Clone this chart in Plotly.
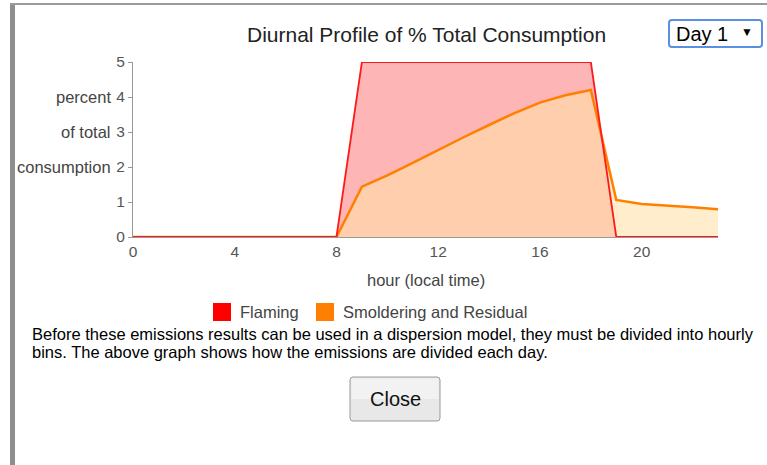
import plotly.graph_objects as go

hours = list(range(24))
flaming = [0, 0, 0, 0, 0, 0, 0, 0, 0, 5, 5, 5, 5, 5, 5, 5, 5, 5, 5, 0, 0, 0, 0, 0]
smoldering = [0, 0, 0, 0, 0, 0, 0, 0, 0, 1.44, 1.76, 2.12, 2.49, 2.85, 3.2, 3.54, 3.84, 4.05, 4.2,
              1.06, 0.94, 0.9, 0.85, 0.79]
x_ticks = [0, 4, 8, 12, 16, 20]
y_ticks = [0, 1, 2, 3, 4, 5]
series_names = ["Flaming", "Smoldering and Residual"]
y_title_lines = ["percent", "of total", "consumption"]

W, H = 767, 465
L, R, T, B = 133, 718, 62, 237
FONT = "Liberation Sans, Arial, sans-serif"


def px(x):
    return (x - L) / (R - L)


def py(y):
    return (B - y) / (B - T)


def rrect(x0, y0, x1, y1, r):
    pts = [
        f"M {px(x0 + r)},{py(y0)}",
        f"L {px(x1 - r)},{py(y0)}",
        f"Q {px(x1)},{py(y0)} {px(x1)},{py(y0 + r)}",
        f"L {px(x1)},{py(y1 - r)}",
        f"Q {px(x1)},{py(y1)} {px(x1 - r)},{py(y1)}",
        f"L {px(x0 + r)},{py(y1)}",
        f"Q {px(x0)},{py(y1)} {px(x0)},{py(y1 - r)}",
        f"L {px(x0)},{py(y0 + r)}",
        f"Q {px(x0)},{py(y0)} {px(x0 + r)},{py(y0)} Z",
    ]
    return " ".join(pts)


fig = go.Figure()
fig.add_trace(go.Scatter(x=hours, y=flaming, mode="lines", fill="tozeroy",
                         fillcolor="rgb(253,181,181)", line=dict(width=0, color="rgba(0,0,0,0)"),
                         hoverinfo="skip", showlegend=False))
fig.add_trace(go.Scatter(x=hours, y=smoldering, mode="lines", fill="tozeroy",
                         fillcolor="rgba(255,224,167,0.58)", line=dict(width=2.5, color="#ff8000"),
                         name=series_names[1], showlegend=False))
fig.add_trace(go.Scatter(x=hours, y=flaming, mode="lines",
                         line=dict(width=1.8, color="#ff1a1a"), name=series_names[0], showlegend=False))

shapes = []
annotations = []

# dialog frame
shapes.append(dict(type="rect", xref="paper", yref="paper", x0=px(10), x1=px(15), y0=py(466), y1=py(3),
                   fillcolor="#8e8e8e", line=dict(width=0), layer="above"))
shapes.append(dict(type="rect", xref="paper", yref="paper", x0=px(10), x1=px(768), y0=py(5), y1=py(3),
                   fillcolor="#9a9a9a", line=dict(width=0), layer="above"))

# dropdown
shapes.append(dict(type="path", xref="paper", yref="paper", path=rrect(669, 20, 762, 47, 3),
                   fillcolor="white", line=dict(width=2, color="#5b8fe0"), layer="above"))
annotations.append(dict(text="Day 1", xref="paper", yref="paper", x=px(674), y=py(33.5), xanchor="left",
                        yanchor="middle", showarrow=False, font=dict(family=FONT, size=20, color="#000")))
annotations.append(dict(text="▼", xref="paper", yref="paper", x=px(747), y=py(32), xanchor="center",
                        yanchor="middle", showarrow=False, font=dict(family=FONT, size=12, color="#000")))

# title
annotations.append(dict(text="Diurnal Profile of % Total Consumption", xref="paper", yref="paper",
                        x=px(426), y=py(35), xanchor="center", yanchor="middle", showarrow=False,
                        font=dict(family=FONT, size=21, color="#222")))

# y title lines
for i, t in enumerate(y_title_lines):
    annotations.append(dict(text=t, xref="paper", yref="y", x=px(113), y=y_ticks[4 - i],
                            xanchor="right", yanchor="middle", showarrow=False,
                            font=dict(family=FONT, size=16.5, color="#444")))

# x title
annotations.append(dict(text="hour (local time)", xref="paper", yref="paper", x=px(426), y=py(280),
                        xanchor="center", yanchor="middle", showarrow=False,
                        font=dict(family=FONT, size=16.5, color="#444")))

# legend
leg = [(213, "#ff0000", series_names[0], 238), (316, "#ff7f00", series_names[1], 341)]
for x0, c, name, tx in leg:
    shapes.append(dict(type="rect", xref="paper", yref="paper", x0=px(x0), x1=px(x0 + 18), y0=py(321),
                       y1=py(303), fillcolor=c, line=dict(width=0)))
    annotations.append(dict(text=name, xref="paper", yref="paper", x=px(tx), y=py(312), xanchor="left",
                            yanchor="middle", showarrow=False, font=dict(family=FONT, size=16.5, color="#444")))

# paragraph
para = ["Before these emissions results can be used in a dispersion model, they must be divided into hourly",
        "bins. The above graph shows how the emissions are divided each day."]
for i, t in enumerate(para):
    annotations.append(dict(text=t, xref="paper", yref="paper", x=px(30), y=py(334 + 18 * i), xanchor="left",
                            yanchor="middle", showarrow=False, font=dict(family=FONT, size=16.5, color="#000")))

# close button
shapes.append(dict(type="path", xref="paper", yref="paper", path=rrect(350, 377, 440, 421, 3),
                   fillcolor="#e8e8e8", line=dict(width=1, color="#9a9a9a")))
shapes.append(dict(type="rect", xref="paper", yref="paper", x0=px(351.5), x1=px(438.5), y0=py(399),
                   y1=py(378.5), fillcolor="#f2f2f2", line=dict(width=0)))
annotations.append(dict(text="Close", xref="paper", yref="paper", x=px(395), y=py(399), xanchor="center",
                        yanchor="middle", showarrow=False, font=dict(family=FONT, size=20, color="#111")))

fig.update_layout(
    width=W, height=H,
    margin=dict(l=L, r=W - R, t=T, b=H - B),
    paper_bgcolor="white", plot_bgcolor="white",
    showlegend=False,
    shapes=shapes, annotations=annotations,
    xaxis=dict(range=[0, 23], tickvals=x_ticks, showgrid=False, zeroline=False, showline=True,
               linecolor="#999", linewidth=1, ticks="", tickfont=dict(family=FONT, size=15.5, color="#555"),
               fixedrange=True),
    yaxis=dict(range=[0, 5], tickvals=y_ticks, showgrid=False, zeroline=False, showline=True,
               linecolor="#999", linewidth=1, ticks="outside", ticklen=4, tickcolor="#999",
               tickfont=dict(family=FONT, size=15.5, color="#555"), fixedrange=True),
)

fig.write_html("out.html", config={"displayModeBar": False},
               post_script="document.body.style.margin='0px';document.body.style.overflow='hidden';")
